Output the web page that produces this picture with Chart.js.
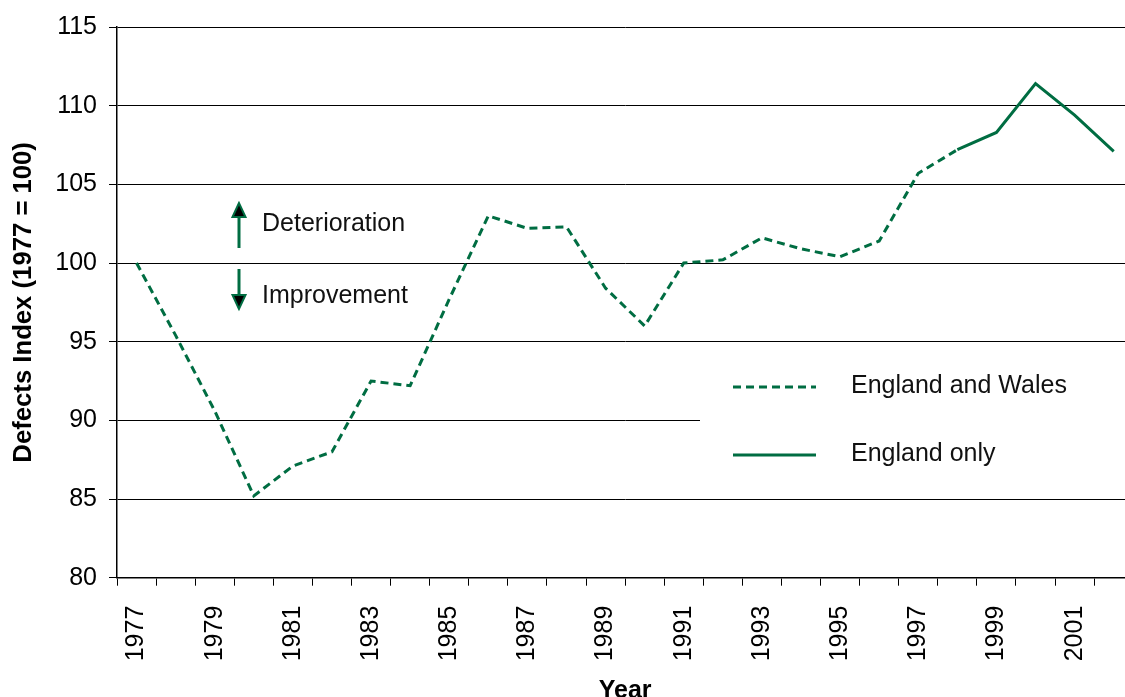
<!DOCTYPE html>
<html>
<head>
<meta charset="utf-8">
<script src="https://cdn.jsdelivr.net/npm/chart.js@4.4.1/dist/chart.umd.min.js"></script>
<style>
  html, body { margin: 0; padding: 0; overflow: hidden; background: #fff; }
</style>
</head>
<body>
<canvas id="chart" width="1164" height="697"></canvas>
<script>
const years = ['1977', '1978', '1979', '1980', '1981', '1982', '1983', '1984', '1985',
  '1986', '1987', '1988', '1989', '1990', '1991', '1992', '1993', '1994', '1995',
  '1996', '1997', '1998', '1999', '2000', '2001', '2002'];

const englandWales = [100, 95.4, 90.6, 85.2, 87.1, 88.0, 92.5, 92.2, 97.7, 103.0,
  102.2, 102.3, 98.4, 96.0, 100.0, 100.2, 101.6, 100.9, 100.4, 101.4, 105.7, 107.2,
  null, null, null, null];

const englandOnly = [null, null, null, null, null, null, null, null, null, null,
  null, null, null, null, null, null, null, null, null, null, null, 107.2,
  108.3, 111.4, 109.4, 107.1];

const yTicks = [80, 85, 90, 95, 100, 105, 110, 115];

const green = '#006d42';
const dash = [8, 5];
const fontFamily = "'Liberation Sans', Arial, sans-serif";

Chart.defaults.font.family = fontFamily;
Chart.defaults.color = '#000';

// white legend box, legend samples and the arrow notes
const overlay = {
  id: 'overlay',
  beforeDatasetsDraw(chart) {
    const ctx = chart.ctx;
    ctx.save();
    ctx.fillStyle = '#fff';
    ctx.fillRect(700, 344, 470, 150);
    ctx.restore();
  },
  afterDatasetsDraw(chart) {
    const ctx = chart.ctx;
    ctx.save();

    // legend
    const rows = [
      {y: 387, ds: chart.data.datasets[0]},
      {y: 455, ds: chart.data.datasets[1]},
    ];
    ctx.font = '25px ' + fontFamily;
    ctx.textBaseline = 'middle';
    ctx.textAlign = 'left';
    rows.forEach((r) => {
      ctx.strokeStyle = r.ds.borderColor;
      ctx.lineWidth = 3;
      ctx.setLineDash(r.ds.borderDash || []);
      ctx.beginPath();
      ctx.moveTo(733, r.y);
      ctx.lineTo(816, r.y);
      ctx.stroke();
      ctx.setLineDash([]);
      ctx.fillStyle = '#111';
      ctx.fillText(r.ds.label, 851, r.y - 1);
    });

    // arrows
    const ax = 239;
    const arrow = (from, base, tip) => {
      ctx.strokeStyle = green;
      ctx.lineWidth = 3;
      ctx.beginPath();
      ctx.moveTo(ax, from);
      ctx.lineTo(ax, base);
      ctx.stroke();
      ctx.beginPath();
      ctx.moveTo(ax, tip);
      ctx.lineTo(ax - 6.5, base);
      ctx.lineTo(ax + 6.5, base);
      ctx.closePath();
      ctx.fillStyle = '#000';
      ctx.fill();
      ctx.lineWidth = 2;
      ctx.stroke();
    };
    arrow(248, 217, 203);
    arrow(269, 295, 309);

    ctx.fillStyle = '#111';
    ctx.fillText('Deterioration', 262, 224);
    ctx.fillText('Improvement', 262, 296);
    ctx.restore();
  },
};

new Chart(document.getElementById('chart'), {
  type: 'line',
  data: {
    labels: years,
    datasets: [
      {
        label: 'England and Wales',
        data: englandWales,
        borderColor: green,
        borderWidth: 3,
        borderDash: dash,
        pointRadius: 0,
        fill: false,
        tension: 0,
      },
      {
        label: 'England only',
        data: englandOnly,
        borderColor: green,
        borderWidth: 3,
        pointRadius: 0,
        fill: false,
        tension: 0,
      },
    ],
  },
  options: {
    responsive: false,
    animation: false,
    layout: {
      padding: {left: 0, top: 25, right: 15, bottom: 0},
    },
    plugins: {
      legend: {display: false},
      tooltip: {enabled: false},
    },
    scales: {
      x: {
        type: 'category',
        offset: true,
        grid: {
          offset: true,
          drawOnChartArea: false,
          tickLength: 8,
          color: '#000',
        },
        border: {color: '#000', width: 1.5},
        ticks: {
          autoSkip: false,
          minRotation: 90,
          maxRotation: 90,
          padding: 20,
          font: {size: 25},
          callback(value, index) {
            return index % 2 === 0 ? this.getLabelForValue(value) : '';
          },
        },
        title: {
          display: true,
          text: 'Year',
          font: {size: 25, weight: 'bold', lineHeight: 0.45},
          padding: {top: 0, bottom: 0},
        },
        afterFit(scale) {
          scale.height = 119.3;
        },
      },
      y: {
        min: 80,
        max: 115,
        afterBuildTicks(scale) {
          scale.ticks = yTicks.map((v) => ({value: v}));
        },
        grid: {
          color: '#000',
          lineWidth: 1,
          tickLength: 8,
        },
        border: {color: '#000', width: 1.5},
        ticks: {
          padding: 12,
          font: {size: 25},
        },
        title: {
          display: true,
          text: 'Defects Index (1977 = 100)',
          font: {size: 25.7, weight: 'bold'},
          padding: {top: 8, bottom: 0},
        },
        afterFit(scale) {
          scale.width = 117;
        },
      },
    },
  },
  plugins: [overlay],
});
</script>
</body>
</html>
